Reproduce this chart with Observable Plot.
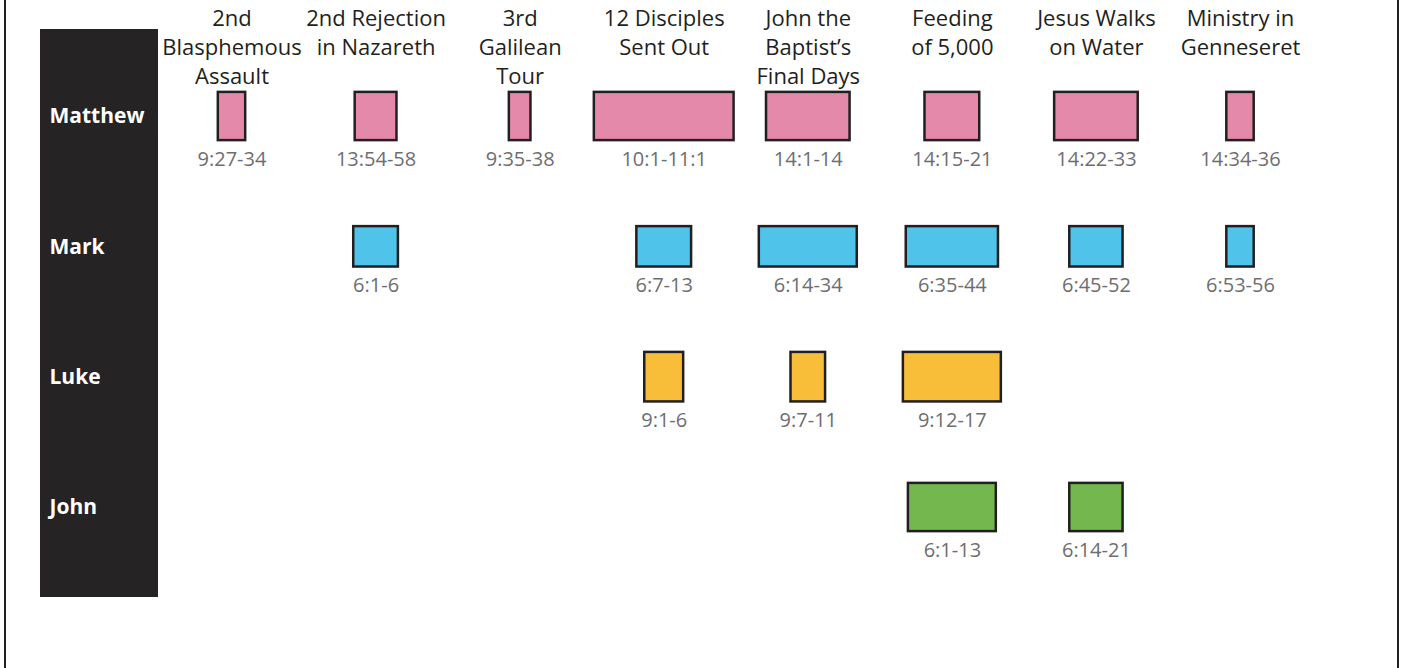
<!DOCTYPE html>
<html>
<head>
<meta charset="utf-8">
<script src="https://cdn.jsdelivr.net/npm/d3@7"></script>
<script src="https://cdn.jsdelivr.net/npm/@observablehq/plot@0.6"></script>
<style>
  html, body { margin: 0; padding: 0; background: #ffffff; }
  #wrap { position: relative; width: 1401px; height: 668px; overflow: hidden; }
  #border { position: absolute; left: 4px; top: 0; width: 1391px; height: 668px;
            border-left: 2px solid #231f20; border-right: 2px solid #231f20; pointer-events: none; }
  svg text { font-family: "Open Sans", "Noto Sans", sans-serif; }
</style>
</head>
<body>
<div id="wrap"><div id="chart"></div><div id="border"></div></div>
<script>
// ---- data ----
const events = [
  "2nd\nBlasphemous\nAssault",
  "2nd Rejection\nin Nazareth",
  "3rd\nGalilean\nTour",
  "12 Disciples\nSent Out",
  "John the\nBaptist’s\nFinal Days",
  "Feeding\nof 5,000",
  "Jesus Walks\non Water",
  "Ministry in\nGenneseret"
];
const gospels = ["Matthew", "Mark", "Luke", "John"];
const gospelColors = ["#e589ab", "#4fc3e9", "#f8be3a", "#75b74f"];

// passage references per gospel, one slot per event (null = absent)
const matthewRefs = ["9:27-34", "13:54-58", "9:35-38", "10:1-11:1", "14:1-14", "14:15-21", "14:22-33", "14:34-36"];
const markRefs    = [null, "6:1-6", null, "6:7-13", "6:14-34", "6:35-44", "6:45-52", "6:53-56"];
const lukeRefs    = [null, null, null, "9:1-6", "9:7-11", "9:12-17", null, null];
const johnRefs    = [null, null, null, null, null, "6:1-13", "6:14-21", null];

// relative box widths (fraction of a column step)
const matthewWidths = [0.19, 0.29, 0.15, 0.97, 0.58, 0.38, 0.58, 0.19];
const markWidths    = [null, 0.31, null, 0.38, 0.68, 0.64, 0.37, 0.19];
const lukeWidths    = [null, null, null, 0.27, 0.24, 0.68, null, null];
const johnWidths    = [null, null, null, null, null, 0.61, 0.37, null];

// relative box heights per gospel (fraction of a row step)
const gospelHeights = [0.37, 0.31, 0.38, 0.37];

// ---- build table ----
const refTable = [matthewRefs, markRefs, lukeRefs, johnRefs];
const widthTable = [matthewWidths, markWidths, lukeWidths, johnWidths];
const boxes = [];
refTable.forEach((refs, g) => {
  refs.forEach((ref, e) => {
    if (ref == null) return;
    boxes.push({gospel: gospels[g], row: g, col: e, ref, w: widthTable[g][e], h: gospelHeights[g]});
  });
});
const headers = events.map((t, i) => ({col: i, text: t}));
const rows = gospels.map((g, i) => ({row: i, name: g}));

const chart = Plot.plot({
  width: 1401,
  height: 668,
  marginTop: 5,
  marginBottom: 71,
  marginLeft: 40,
  marginRight: 0,
  style: {fontFamily: "'Open Sans', 'Noto Sans', sans-serif", background: "transparent"},
  x: {domain: [0, events.length - 1], range: [231.5, 1240], axis: null},
  y: {domain: [0, gospels.length - 1], range: [116, 507], axis: null},
  color: {domain: gospels, range: gospelColors},
  marks: [
    // dark sidebar behind gospel names
    Plot.rect([{}], {fill: "#252324", insetTop: 24, insetRight: 1401 - 40 - 118}),
    Plot.text(rows, {y: "row", text: "name", frameAnchor: "left", dx: 9, textAnchor: "start",
      fill: "#ffffff", fontWeight: "bold", fontSize: 21}),
    // column headers
    Plot.text(headers, {x: "col", text: "text", frameAnchor: "top", lineAnchor: "top",
      lineHeight: 1.31, fontSize: 22, fill: "#231f20"}),
    // passage boxes
    Plot.rect(boxes, {
      x1: d => d.col - d.w / 2, x2: d => d.col + d.w / 2,
      y1: d => d.row - d.h / 2, y2: d => d.row + d.h / 2,
      fill: "gospel", stroke: "#231f20", strokeWidth: 2.5
    }),
    // passage references
    Plot.text(boxes, {x: "col", y: d => d.row + d.h / 2, text: "ref", lineAnchor: "top",
      dy: 11, fontSize: 20, fill: "#6d6e71"})
  ]
});
document.getElementById("chart").appendChild(chart);
</script>
</body>
</html>
